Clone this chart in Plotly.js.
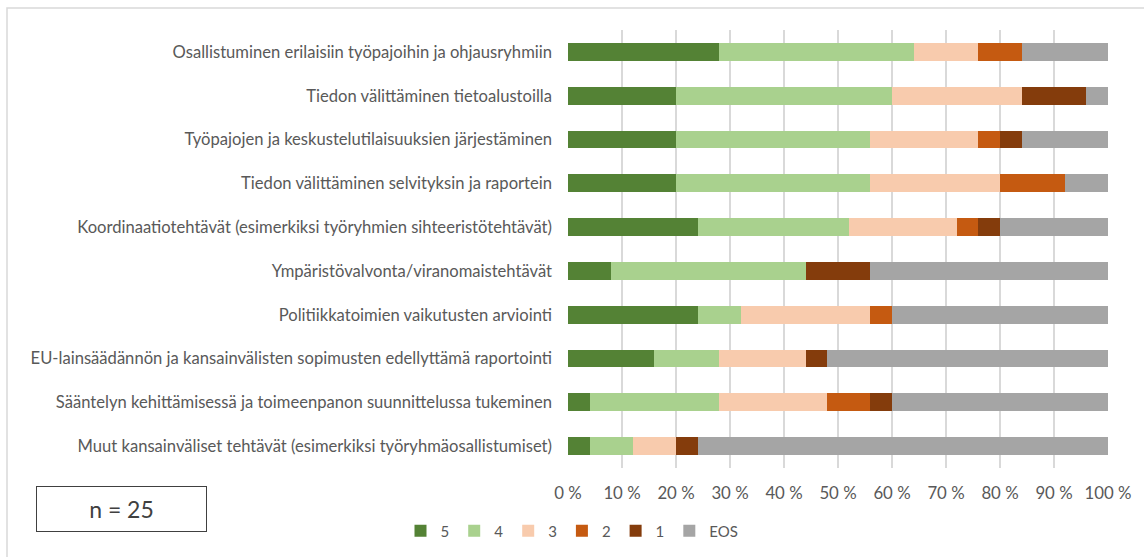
<!DOCTYPE html>
<html>
<head>
<meta charset="utf-8">
<script src="https://cdn.plot.ly/plotly-3.0.1.min.js"></script>
<style>html,body{margin:0;padding:0;background:#fff;}#chart{width:1144px;height:557px;}</style>
</head>
<body>
<div id="chart"></div>
<script>
const categories = [
  "Osallistuminen erilaisiin työpajoihin ja ohjausryhmiin",
  "Tiedon välittäminen tietoalustoilla",
  "Työpajojen ja keskustelutilaisuuksien järjestäminen",
  "Tiedon välittäminen selvityksin ja raportein",
  "Koordinaatiotehtävät (esimerkiksi työryhmien sihteeristötehtävät)",
  "Ympäristövalvonta/viranomaistehtävät",
  "Politiikkatoimien vaikutusten arviointi",
  "EU-lainsäädännön ja kansainvälisten sopimusten edellyttämä raportointi",
  "Sääntelyn kehittämisessä ja toimeenpanon suunnittelussa tukeminen",
  "Muut kansainväliset tehtävät (esimerkiksi työryhmäosallistumiset)"
];
const seriesNames = ["5", "4", "3", "2", "1", "EOS"];
const s5  = [28, 20, 20, 20, 24,  8, 24, 16,  4,  4];
const s4  = [36, 40, 36, 36, 28, 36,  8, 12, 24,  8];
const s3  = [12, 24, 20, 24, 20,  0, 24, 16, 20,  8];
const s2  = [ 8,  0,  4, 12,  4,  0,  4,  0,  8,  0];
const s1  = [ 0, 12,  4,  0,  4, 12,  0,  4,  4,  4];
const sEOS= [16,  4, 16,  8, 20, 44, 40, 52, 40, 76];
const tickVals = [0,10,20,30,40,50,60,70,80,90,100];
const tickText = ["0 %","10 %","20 %","30 %","40 %","50 %","60 %","70 %","80 %","90 %","100 %"];
const nLabel = "n = 25";

const colors = ["#548235", "#A9D18E", "#F8CBAD", "#C55A11", "#843C0C", "#A5A5A5"];
const allSeries = [s5, s4, s3, s2, s1, sEOS];

const traces = allSeries.map((vals, i) => ({
  type: 'bar',
  orientation: 'h',
  name: seriesNames[i],
  x: vals,
  y: categories,
  marker: {color: colors[i], line: {width: 0}},
  width: 0.41,
  hoverinfo: 'x+name'
}));

const fam = 'Lato, Calibri, "Open Sans", sans-serif';
const gray = '#595959';

const layout = {
  width: 1144, height: 557,
  margin: {l: 568, r: 36, t: 30, b: 89},
  barmode: 'stack',
  paper_bgcolor: '#fff', plot_bgcolor: '#fff',
  font: {family: fam, size: 15, color: gray},
  showlegend: true,
  legend: {
    orientation: 'h', xref: 'container', yref: 'container',
    x: 0.5, xanchor: 'center', y: 1 - 531/557, yanchor: 'middle',
    traceorder: 'normal',
    font: {family: fam, size: 15, color: gray},
    itemwidth: 30, tracegroupgap: 0
  },
  xaxis: {
    range: [0, 100], tickvals: tickVals, ticktext: tickText,
    showgrid: true, gridcolor: '#D9D9D9', gridwidth: 1.5,
    zeroline: false, showline: false, ticks: '',
    ticklabelstandoff: 13, fixedrange: true,
    tickfont: {family: fam, size: 16.8, color: gray}
  },
  yaxis: {
    type: 'category', autorange: 'reversed',
    showgrid: false, zeroline: false, showline: false, ticks: '',
    ticklabelstandoff: 15, fixedrange: true,
    tickfont: {family: fam, size: 16.6, color: gray}
  },
  shapes: [
    {type: 'rect', xref: 'paper', yref: 'paper',
     x0: (7-568)/540, x1: (1150-568)/540, y0: (468-565)/438, y1: (468-8)/438,
     line: {color: '#D9D9D9', width: 1.5}, fillcolor: 'rgba(0,0,0,0)', layer: 'below'}
  ],
  annotations: [
    {text: nLabel, xref: 'paper', yref: 'paper',
     x: (121.5-568)/540, y: (468-509)/438, xanchor: 'center', yanchor: 'middle',
     showarrow: false, width: 169, height: 44, bordercolor: '#404040', borderwidth: 1,
     borderpad: 0, bgcolor: '#fff',
     font: {family: fam, size: 23, color: '#404040'}}
  ]
};

Plotly.newPlot('chart', traces, layout, {displayModeBar: false, staticPlot: true});
</script>
</body>
</html>
